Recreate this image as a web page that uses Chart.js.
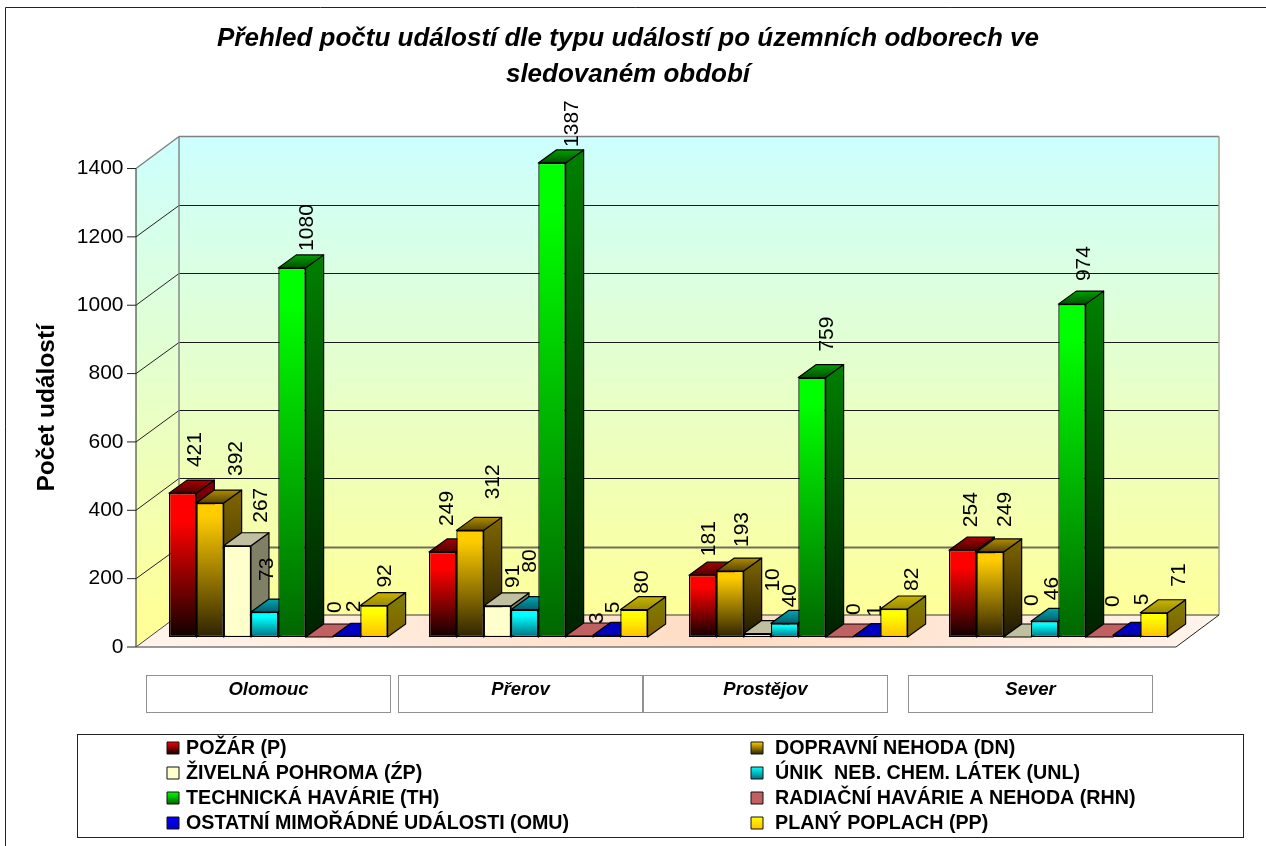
<!DOCTYPE html>
<html lang="cs">
<head>
<meta charset="utf-8">
<title>Přehled počtu událostí</title>
<script src="https://cdn.jsdelivr.net/npm/chart.js@4"></script>
<style>
  html, body { margin: 0; padding: 0; background: #fff; }
  canvas { display: block; }
</style>
</head>
<body>
<canvas id="eventChart" width="1266" height="846"></canvas>
<script>
const categories = ["Olomouc", "Přerov", "Prostějov", "Sever"];
const seriesLabels = [
  "POŽÁR (P)",
  "DOPRAVNÍ NEHODA (DN)",
  "ŽIVELNÁ POHROMA (ŹP)",
  "ÚNIK  NEB. CHEM. LÁTEK (UNL)",
  "TECHNICKÁ HAVÁRIE (TH)",
  "RADIAČNÍ HAVÁRIE A NEHODA (RHN)",
  "OSTATNÍ MIMOŘÁDNÉ UDÁLOSTI (OMU)",
  "PLANÝ POPLACH (PP)",
];
const pozar = [421, 249, 181, 254];
const nehoda = [392, 312, 193, 249];
const pohroma = [267, 91, 10, 0];
const unik = [73, 80, 40, 46];
const technicka = [1080, 1387, 759, 974];
const radiacni = [0, 3, 0, 0];
const ostatni = [2, 5, 1, 5];
const poplach = [92, 80, 82, 71];
const seriesValues = [pozar, nehoda, pohroma, unik, technicka, radiacni, ostatni, poplach];
const yTicksMax = 1400;
const yTicksStep = 200;

// front, side and top face colours of each series: [from, to]
const faces = [
  { front: ["#ff0000", "#100000"], hold: 0.2, side: ["#800000", "#080000"], top: ["#a80000", "#500000"] },
  { front: ["#ffcc00", "#2e2300"], hold: 0.1, side: ["#806600", "#1e1800"], top: ["#b08c00", "#5a4500"] },
  { front: ["#ffffcc", "#ffffcc"], hold: 0, side: ["#808066", "#808066"], top: ["#c0c0a0", "#c0c0a0"] },
  { front: ["#00ffff", "#007080"], hold: 0.2, side: ["#008080", "#003840"], top: ["#00a8b0", "#006070"] },
  { front: ["#00ff00", "#006600"], hold: 0.1, side: ["#008000", "#002200"], top: ["#00a000", "#005000"] },
  { front: ["#c06060", "#c06060"], hold: 0, side: ["#c06060", "#c06060"], top: ["#c06060", "#c06060"] },
  { front: ["#0000ff", "#0000c0"], hold: 0, side: ["#000080", "#000080"], top: ["#0000c0", "#0000c0"] },
  { front: ["#ffff00", "#ffc000"], hold: 0.2, side: ["#808000", "#806000"], top: ["#c8b400", "#9a8a00"] },
];

// hand placed data labels in the original, offset from the bar top centre: [dx, dy]
const labelNudge = [
  [[13, -26], [5, -26], [7, -19], [9, -23]],
  [[26, -27], [23, -31], [12, -24], [15, -25]],
  [[24, -23], [16, -18], [16, -42], [15, -31]],
  [[3, -31], [6, -37], [6, -16], [8, -21]],
  [[15, -17], [20, -16], [15, -26], [12, -23]],
  [[16, -24], [18, -12], [15, -22], [14, -30]],
  [[8, -24], [7, -22], [9, -20], [16, -30]],
  [[11, -18], [8, -16], [18, -18], [25, -26]],
];

const FONT = '"Liberation Sans", Arial, sans-serif';
const PLOT_LEFT = 148.3;
const PLOT_RIGHT = 1188.3;
const AXIS_X = 136;
const WALL_DX = 43;
const WALL_DY = 32;
const BAR_DX = 18;
const BAR_DY = 13;
const PX_PER_UNIT = 478.5 / 1400;
const BAR_SHIFT = 10; // bars stand this far behind the front edge of the floor

const catBoxLeft = [146, 398, 643, 908];

function verticalGradient(ctx, y0, y1, colors, hold) {
  const g = ctx.createLinearGradient(0, y0, 0, Math.max(y1, y0 + 1));
  g.addColorStop(0, colors[0]);
  if (hold) g.addColorStop(hold, colors[0]);
  g.addColorStop(1, colors[1]);
  return g;
}

function polygon(ctx, points, fill, stroke, width) {
  ctx.beginPath();
  points.forEach((p, i) => (i ? ctx.lineTo(p[0], p[1]) : ctx.moveTo(p[0], p[1])));
  ctx.closePath();
  if (fill) {
    ctx.fillStyle = fill;
    ctx.fill();
  }
  if (stroke) {
    ctx.strokeStyle = stroke;
    ctx.lineWidth = width || 1;
    ctx.stroke();
  }
}

function line(ctx, x0, y0, x1, y1, color, width) {
  ctx.beginPath();
  ctx.moveTo(x0, y0);
  ctx.lineTo(x1, y1);
  ctx.strokeStyle = color;
  ctx.lineWidth = width || 1;
  ctx.stroke();
}

function drawRoom(chart) {
  const ctx = chart.ctx;
  const axis = chart.scales.axisY;
  const floorY = axis.getPixelForValue(0);
  const topY = axis.getPixelForValue(yTicksMax);
  const backLeft = AXIS_X + WALL_DX;
  const frontRight = AXIS_X + (PLOT_RIGHT - PLOT_LEFT);
  const backRight = frontRight + WALL_DX;

  const wall = ctx.createLinearGradient(0, topY - WALL_DY, 0, floorY - WALL_DY);
  wall.addColorStop(0, "#ccffff");
  wall.addColorStop(1, "#ffff99");
  polygon(ctx, [[backLeft, topY - WALL_DY], [backRight, topY - WALL_DY], [backRight, floorY - WALL_DY], [backLeft, floorY - WALL_DY]], wall);
  polygon(ctx, [[AXIS_X, topY], [backLeft, topY - WALL_DY], [backLeft, floorY - WALL_DY], [AXIS_X, floorY]], wall);

  const floor = ctx.createLinearGradient(AXIS_X, 0, backRight, 0);
  floor.addColorStop(0, "#fff4ec");
  floor.addColorStop(0.55, "#ffdcc4");
  floor.addColorStop(1, "#fff4ec");
  polygon(ctx, [[AXIS_X, floorY], [backLeft, floorY - WALL_DY], [backRight, floorY - WALL_DY], [frontRight, floorY]], floor);

  axis.ticks.forEach((tick, i) => {
    const y = axis.getPixelForTick(i);
    if (tick.value > 0 && tick.value < yTicksMax) {
      const backY = Math.round(y - WALL_DY) + 0.5;
      line(ctx, AXIS_X, y, backLeft, backY, "#222");
      // the lowest grid line comes out thick and grey in the original
      if (tick.value === yTicksStep) line(ctx, backLeft, backY, backRight, backY, "#707058", 2);
      else line(ctx, backLeft, backY, backRight, backY, "#1a1a1a", 1);
    }
    line(ctx, AXIS_X - 9, y, AXIS_X, y, "#222");
  });

  line(ctx, AXIS_X, topY, backLeft, topY - WALL_DY, "#808080", 1.4);
  line(ctx, backLeft, topY - WALL_DY, backRight, topY - WALL_DY, "#808080", 1.4);
  line(ctx, backLeft, topY - WALL_DY, backLeft, floorY - WALL_DY, "#808080", 1.4);
  line(ctx, backRight, topY - WALL_DY, backRight, floorY - WALL_DY, "#a0a080", 1.4);
  line(ctx, backLeft, floorY - WALL_DY, backRight, floorY - WALL_DY, "#77775f", 1.6);
  line(ctx, AXIS_X, floorY, backLeft, floorY - WALL_DY, "#444");
  line(ctx, AXIS_X, floorY, frontRight, floorY, "#777", 1.6);
  line(ctx, frontRight, floorY, backRight, floorY - WALL_DY, "#222");
  line(ctx, AXIS_X, topY, AXIS_X, floorY, "#222");
}

function drawCategoryBoxes(chart) {
  const ctx = chart.ctx;
  ctx.save();
  categories.forEach((name, i) => {
    ctx.setLineDash([1, 1]);
    ctx.strokeStyle = "#222";
    ctx.lineWidth = 1;
    ctx.strokeRect(catBoxLeft[i] + 0.5, 675.5, 244, 37);
    ctx.setLineDash([]);
    ctx.fillStyle = "#000";
    ctx.font = "italic bold 18.5px " + FONT;
    ctx.textAlign = "center";
    ctx.textBaseline = "middle";
    ctx.fillText(name, catBoxLeft[i] + 122.5, 690);
  });
  ctx.restore();
}

function drawLegendBox(chart) {
  const ctx = chart.ctx;
  ctx.save();
  ctx.strokeStyle = "#222";
  ctx.lineWidth = 1;
  ctx.strokeRect(77.5, 734.5, 1166, 103);
  chart.data.datasets.forEach((ds, j) => {
    const col = j % 2;
    const row = (j - col) / 2;
    const sx = col ? 751 : 167;
    const tx = col ? 775 : 186;
    const y = 748 + row * 25;
    const fill = verticalGradient(ctx, y - 6, y + 6, faces[j].front, 0);
    polygon(ctx, [[sx, y - 6], [sx + 12, y - 6], [sx + 12, y + 6], [sx, y + 6]], fill, "#111");
    ctx.fillStyle = "#000";
    ctx.font = "bold 19.7px " + FONT;
    ctx.textAlign = "left";
    ctx.textBaseline = "middle";
    ctx.fillText(ds.label, tx, y + 0.5);
  });
  ctx.restore();
}

// side and top of one series' bars, the next series then covers them
function drawBarDepth(chart, j) {
  const ctx = chart.ctx;
  const face = faces[j];
  ctx.save();
  ctx.lineJoin = "round";
  chart.getDatasetMeta(j).data.forEach((bar) => {
    const left = bar.x - bar.width / 2;
    const right = bar.x + bar.width / 2;
    if (bar.base - bar.y > 0.5) {
      polygon(ctx, [[right, bar.y], [right + BAR_DX, bar.y - BAR_DY], [right + BAR_DX, bar.base - BAR_DY], [right, bar.base]],
        verticalGradient(ctx, bar.y - BAR_DY, bar.base, face.side, 0), "#000", 1.2);
    }
    polygon(ctx, [[left, bar.y], [left + BAR_DX, bar.y - BAR_DY], [right + BAR_DX, bar.y - BAR_DY], [right, bar.y]],
      verticalGradient(ctx, bar.y - BAR_DY, bar.y, face.top, 0), "#000", 1.2);
  });
  ctx.restore();
}

const roomPlugin = {
  id: "room",
  beforeDatasetsDraw(chart) {
    const ctx = chart.ctx;
    ctx.save();
    // outer frame, only the left and top edges are inside the picture
    line(ctx, 5.5, 846, 5.5, 7.5, "#222");
    line(ctx, 5.5, 7.5, 1266, 7.5, "#222");
    drawRoom(chart);
    drawCategoryBoxes(chart);
    drawLegendBox(chart);
    ctx.restore();
    // the library paints the first dataset last, here they have to go left to right
    chart.data.datasets.forEach((ds, j) => {
      chart.getDatasetMeta(j).controller.draw();
      drawBarDepth(chart, j);
    });
    return false;
  },
  afterDraw(chart) {
    const ctx = chart.ctx;
    ctx.save();
    ctx.fillStyle = "#000";
    ctx.font = "21px " + FONT;
    ctx.textAlign = "left";
    ctx.textBaseline = "middle";
    chart.data.datasets.forEach((ds, j) => {
      chart.getDatasetMeta(j).data.forEach((bar, i) => {
        ctx.save();
        ctx.translate(bar.x + labelNudge[j][i][0], bar.y + labelNudge[j][i][1]);
        ctx.rotate(-Math.PI / 2);
        ctx.fillText(String(ds.data[i]), 0, 0);
        ctx.restore();
      });
    });
    ctx.restore();
  },
};

function barFront(context, j) {
  const chart = context.chart;
  if (!chart.chartArea || context.raw === undefined) return faces[j].front[0];
  const scale = chart.scales.y;
  return verticalGradient(chart.ctx, scale.getPixelForValue(context.raw), scale.getPixelForValue(0), faces[j].front, faces[j].hold);
}

new Chart(document.getElementById("eventChart"), {
  type: "bar",
  data: {
    labels: categories,
    datasets: seriesLabels.map((label, j) => ({
      label: label,
      data: seriesValues[j],
      yAxisID: "y",
      clip: false,
      backgroundColor: (context) => barFront(context, j),
      borderColor: "#000",
      borderWidth: 1.3,
      borderSkipped: false,
      barPercentage: 1,
      categoryPercentage: 218.6 / 260,
    })),
  },
  plugins: [roomPlugin],
  options: {
    responsive: false,
    animation: false,
    layout: { padding: { left: 0, right: 10, top: 0, bottom: 846 - 647 } },
    plugins: {
      legend: { display: false },
      tooltip: { enabled: false },
      title: {
        display: true,
        text: ["Přehled počtu událostí dle typu událostí po územních odborech ve", "sledovaném období"],
        color: "#000",
        font: { family: FONT, size: 26, weight: "bold", style: "italic", lineHeight: 1.385 },
        padding: { top: 21, bottom: 75.5 },
      },
    },
    scales: {
      x: { display: false },
      // value axis as printed, on the front edge of the room
      axisY: {
        position: "left",
        min: 0,
        max: yTicksMax,
        afterFit: (scale) => { scale.width = PLOT_LEFT; },
        grid: { display: false, drawTicks: false },
        border: { display: false },
        ticks: {
          stepSize: yTicksStep,
          padding: 24.8,
          color: "#000",
          font: { family: FONT, size: 21 },
          callback: (value) => String(value),
        },
        title: {
          display: true,
          text: "Počet událostí",
          color: "#000",
          font: { family: FONT, size: 24.5, weight: "bold" },
          padding: { top: 33, bottom: 0 },
        },
      },
      // same units, moved back into the room where the bars stand
      y: {
        position: "right",
        min: -BAR_SHIFT / PX_PER_UNIT,
        max: yTicksMax - BAR_SHIFT / PX_PER_UNIT,
        afterFit: (scale) => { scale.width = 1256 - PLOT_RIGHT; },
        grid: { display: false, drawTicks: false },
        border: { display: false },
        ticks: { display: false },
      },
    },
  },
});
</script>
</body>
</html>
